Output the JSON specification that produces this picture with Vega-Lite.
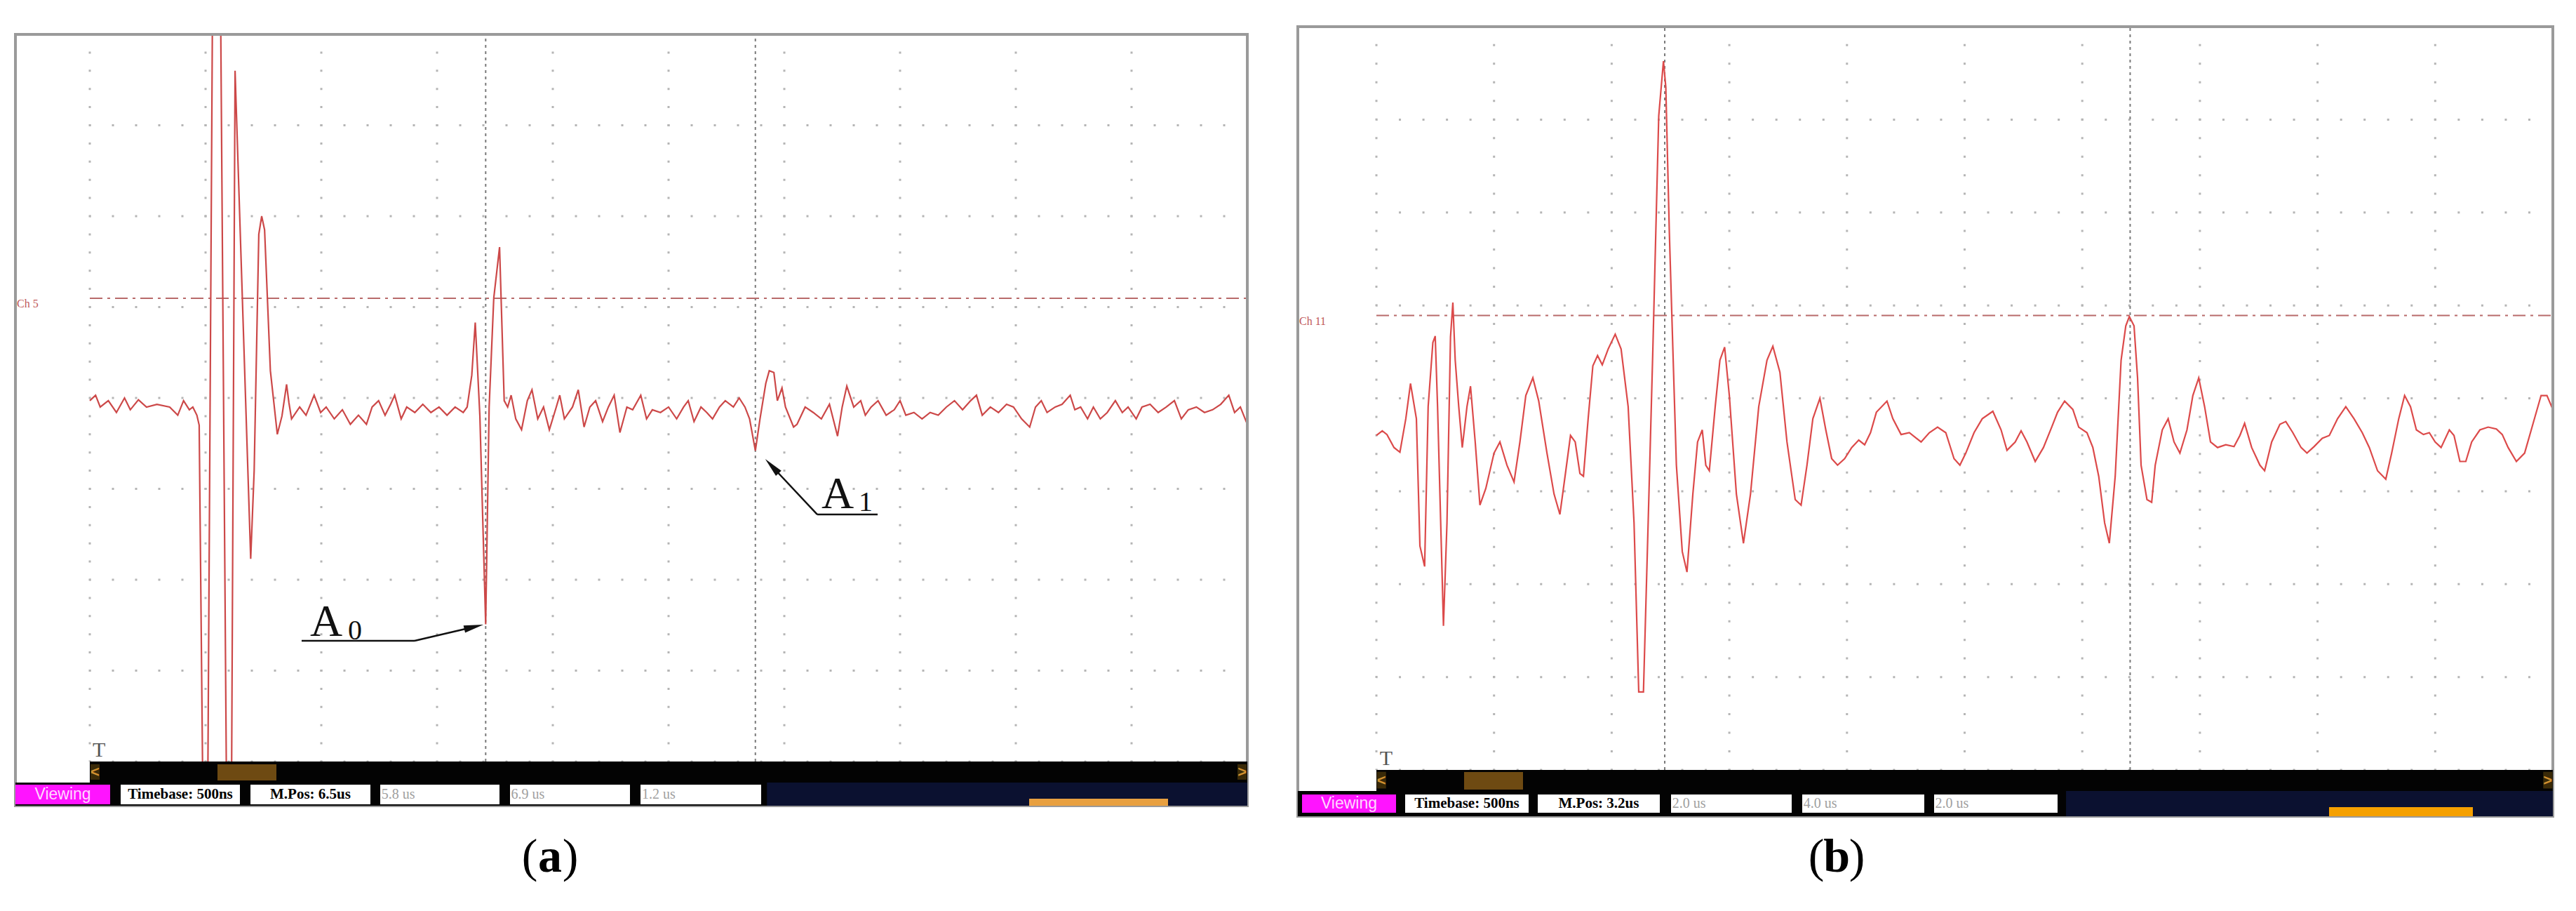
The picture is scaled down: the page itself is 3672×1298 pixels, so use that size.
{
"$schema":"https://vega.github.io/schema/vega-lite/v6.json",
"width":3672,"height":1298,
"autosize":{"type":"fit","contains":"padding"},
"padding":0,
"background":"white",
"config":{"view":{"stroke":null}},
"datasets":{
"waveA":[{"d":0,"v":-0.03},{"d":0.05,"v":0.03},{"d":0.09,"v":-0.1},{"d":0.16,"v":-0.03},{"d":0.23,"v":-0.16},{"d":0.3,"v":0},{"d":0.35,"v":-0.13},{"d":0.42,"v":-0.02},{"d":0.49,"v":-0.1},{"d":0.58,"v":-0.07},{"d":0.69,"v":-0.1},{"d":0.76,"v":-0.19},{"d":0.81,"v":-0.03},{"d":0.86,"v":-0.13},{"d":0.89,"v":-0.1},{"d":0.925,"v":-0.19},{"d":0.945,"v":-0.3},{"d":0.975,"v":-4.15},{"d":1.02,"v":-4.15},{"d":1.06,"v":4.3},{"d":1.13,"v":4.3},{"d":1.18,"v":-4.15},{"d":1.225,"v":-4.15},{"d":1.255,"v":3.6},{"d":1.265,"v":3.2},{"d":1.39,"v":-1.77},{"d":1.42,"v":-0.8},{"d":1.46,"v":1.8},{"d":1.485,"v":2.0},{"d":1.51,"v":1.85},{"d":1.56,"v":0.3},{"d":1.62,"v":-0.4},{"d":1.66,"v":-0.2},{"d":1.7,"v":0.15},{"d":1.72,"v":-0.05},{"d":1.743,"v":-0.23},{"d":1.813,"v":-0.1},{"d":1.868,"v":-0.19},{"d":1.938,"v":0.03},{"d":1.994,"v":-0.16},{"d":2.042,"v":-0.1},{"d":2.112,"v":-0.23},{"d":2.182,"v":-0.13},{"d":2.251,"v":-0.29},{"d":2.321,"v":-0.19},{"d":2.39,"v":-0.29},{"d":2.439,"v":-0.1},{"d":2.495,"v":-0.03},{"d":2.551,"v":-0.19},{"d":2.599,"v":-0.07},{"d":2.634,"v":0.03},{"d":2.69,"v":-0.23},{"d":2.738,"v":-0.1},{"d":2.808,"v":-0.16},{"d":2.877,"v":-0.07},{"d":2.947,"v":-0.16},{"d":3.017,"v":-0.1},{"d":3.086,"v":-0.19},{"d":3.156,"v":-0.1},{"d":3.226,"v":-0.16},{"d":3.26,"v":-0.1},{"d":3.3,"v":0.25},{"d":3.33,"v":0.83},{"d":3.37,"v":-0.2},{"d":3.42,"v":-2.49},{"d":3.45,"v":-0.1},{"d":3.49,"v":1.1},{"d":3.54,"v":1.66},{"d":3.58,"v":-0.03},{"d":3.61,"v":-0.1},{"d":3.64,"v":0.03},{"d":3.68,"v":-0.23},{"d":3.73,"v":-0.35},{"d":3.78,"v":-0.03},{"d":3.82,"v":0.09},{"d":3.87,"v":-0.23},{"d":3.92,"v":-0.1},{"d":3.97,"v":-0.35},{"d":4.03,"v":-0.1},{"d":4.06,"v":0.03},{"d":4.1,"v":-0.23},{"d":4.17,"v":-0.1},{"d":4.22,"v":0.09},{"d":4.27,"v":-0.32},{"d":4.32,"v":-0.1},{"d":4.37,"v":-0.03},{"d":4.43,"v":-0.26},{"d":4.48,"v":-0.1},{"d":4.53,"v":0.03},{"d":4.58,"v":-0.38},{"d":4.64,"v":-0.1},{"d":4.69,"v":-0.13},{"d":4.76,"v":0.03},{"d":4.81,"v":-0.23},{"d":4.86,"v":-0.13},{"d":4.93,"v":-0.16},{"d":5.0,"v":-0.1},{"d":5.07,"v":-0.23},{"d":5.13,"v":-0.1},{"d":5.17,"v":-0.03},{"d":5.22,"v":-0.26},{"d":5.28,"v":-0.1},{"d":5.33,"v":-0.16},{"d":5.38,"v":-0.23},{"d":5.44,"v":-0.1},{"d":5.49,"v":-0.03},{"d":5.56,"v":-0.1},{"d":5.61,"v":0},{"d":5.66,"v":-0.1},{"d":5.7,"v":-0.23},{"d":5.75,"v":-0.58},{"d":5.79,"v":-0.23},{"d":5.84,"v":0.16},{"d":5.87,"v":0.3},{"d":5.91,"v":0.28},{"d":5.94,"v":-0.03},{"d":5.98,"v":0.11},{"d":6.01,"v":-0.1},{"d":6.08,"v":-0.32},{"d":6.11,"v":-0.29},{"d":6.18,"v":-0.1},{"d":6.25,"v":-0.16},{"d":6.32,"v":-0.23},{"d":6.39,"v":-0.07},{"d":6.46,"v":-0.42},{"d":6.5,"v":-0.1},{"d":6.54,"v":0.13},{"d":6.6,"v":-0.1},{"d":6.66,"v":-0.03},{"d":6.7,"v":-0.19},{"d":6.75,"v":-0.1},{"d":6.81,"v":-0.03},{"d":6.88,"v":-0.19},{"d":6.95,"v":-0.13},{"d":7.0,"v":-0.03},{"d":7.05,"v":-0.19},{"d":7.12,"v":-0.16},{"d":7.19,"v":-0.23},{"d":7.26,"v":-0.16},{"d":7.33,"v":-0.19},{"d":7.4,"v":-0.1},{"d":7.47,"v":-0.03},{"d":7.54,"v":-0.13},{"d":7.61,"v":-0.03},{"d":7.66,"v":0.03},{"d":7.71,"v":-0.19},{"d":7.78,"v":-0.1},{"d":7.85,"v":-0.16},{"d":7.92,"v":-0.07},{"d":7.98,"v":-0.1},{"d":8.05,"v":-0.23},{"d":8.12,"v":-0.32},{"d":8.17,"v":-0.1},{"d":8.22,"v":-0.03},{"d":8.27,"v":-0.16},{"d":8.34,"v":-0.1},{"d":8.4,"v":-0.07},{"d":8.47,"v":0.03},{"d":8.51,"v":-0.13},{"d":8.56,"v":-0.1},{"d":8.62,"v":-0.23},{"d":8.67,"v":-0.1},{"d":8.73,"v":-0.23},{"d":8.79,"v":-0.16},{"d":8.86,"v":-0.03},{"d":8.92,"v":-0.16},{"d":8.97,"v":-0.1},{"d":9.04,"v":-0.23},{"d":9.09,"v":-0.1},{"d":9.16,"v":-0.07},{"d":9.23,"v":-0.16},{"d":9.3,"v":-0.1},{"d":9.37,"v":-0.03},{"d":9.43,"v":-0.23},{"d":9.49,"v":-0.13},{"d":9.56,"v":-0.1},{"d":9.63,"v":-0.16},{"d":9.7,"v":-0.13},{"d":9.77,"v":-0.07},{"d":9.84,"v":0.03},{"d":9.89,"v":-0.16},{"d":9.94,"v":-0.1},{"d":10.0,"v":-0.29}],
"waveB":[{"d":0,"v":-0.4},{"d":0.05,"v":-0.35},{"d":0.09,"v":-0.39},{"d":0.15,"v":-0.53},{"d":0.2,"v":-0.58},{"d":0.25,"v":-0.22},{"d":0.29,"v":0.16},{"d":0.34,"v":-0.22},{"d":0.37,"v":-1.59},{"d":0.41,"v":-1.81},{"d":0.44,"v":-0.09},{"d":0.48,"v":0.6},{"d":0.5,"v":0.67},{"d":0.52,"v":-0.09},{"d":0.56,"v":-1.97},{"d":0.57,"v":-2.45},{"d":0.6,"v":-1.34},{"d":0.63,"v":0.66},{"d":0.65,"v":1.03},{"d":0.67,"v":0.41},{"d":0.7,"v":-0.09},{"d":0.73,"v":-0.53},{"d":0.77,"v":-0.09},{"d":0.8,"v":0.13},{"d":0.84,"v":-0.47},{"d":0.88,"v":-1.15},{"d":0.93,"v":-0.97},{"d":1.0,"v":-0.59},{"d":1.05,"v":-0.47},{"d":1.11,"v":-0.72},{"d":1.17,"v":-0.9},{"d":1.22,"v":-0.47},{"d":1.27,"v":0.03},{"d":1.33,"v":0.22},{"d":1.38,"v":-0.03},{"d":1.45,"v":-0.59},{"d":1.51,"v":-1.03},{"d":1.56,"v":-1.25},{"d":1.61,"v":-0.78},{"d":1.65,"v":-0.4},{"d":1.69,"v":-0.47},{"d":1.73,"v":-0.81},{"d":1.76,"v":-0.84},{"d":1.8,"v":-0.22},{"d":1.84,"v":0.35},{"d":1.88,"v":0.46},{"d":1.92,"v":0.36},{"d":1.97,"v":0.53},{"d":2.03,"v":0.69},{"d":2.08,"v":0.53},{"d":2.14,"v":-0.09},{"d":2.19,"v":-1.34},{"d":2.23,"v":-3.16},{"d":2.27,"v":-3.16},{"d":2.31,"v":-1.34},{"d":2.35,"v":0.53},{"d":2.4,"v":3.04},{"d":2.44,"v":3.63},{"d":2.46,"v":3.35},{"d":2.49,"v":1.79},{"d":2.52,"v":0.53},{"d":2.55,"v":-0.72},{"d":2.6,"v":-1.65},{"d":2.64,"v":-1.87},{"d":2.69,"v":-1.03},{"d":2.73,"v":-0.47},{"d":2.77,"v":-0.34},{"d":2.8,"v":-0.72},{"d":2.83,"v":-0.78},{"d":2.88,"v":-0.09},{"d":2.92,"v":0.41},{"d":2.96,"v":0.55},{"d":3.0,"v":0.03},{"d":3.06,"v":-1.03},{"d":3.12,"v":-1.56},{"d":3.18,"v":-1.03},{"d":3.25,"v":-0.09},{"d":3.32,"v":0.41},{"d":3.37,"v":0.56},{"d":3.43,"v":0.28},{"d":3.49,"v":-0.47},{"d":3.56,"v":-1.09},{"d":3.61,"v":-1.15},{"d":3.66,"v":-0.72},{"d":3.71,"v":-0.22},{"d":3.77,"v":0},{"d":3.82,"v":-0.34},{"d":3.87,"v":-0.65},{"d":3.92,"v":-0.72},{"d":3.98,"v":-0.65},{"d":4.04,"v":-0.53},{"d":4.1,"v":-0.45},{"d":4.15,"v":-0.5},{"d":4.2,"v":-0.37},{"d":4.25,"v":-0.15},{"d":4.34,"v":-0.03},{"d":4.39,"v":-0.22},{"d":4.46,"v":-0.39},{"d":4.53,"v":-0.37},{"d":4.58,"v":-0.42},{"d":4.63,"v":-0.47},{"d":4.7,"v":-0.37},{"d":4.77,"v":-0.31},{"d":4.84,"v":-0.37},{"d":4.91,"v":-0.65},{"d":4.96,"v":-0.72},{"d":5.01,"v":-0.59},{"d":5.08,"v":-0.37},{"d":5.15,"v":-0.22},{"d":5.24,"v":-0.14},{"d":5.31,"v":-0.34},{"d":5.36,"v":-0.56},{"d":5.43,"v":-0.47},{"d":5.48,"v":-0.35},{"d":5.53,"v":-0.47},{"d":5.6,"v":-0.68},{"d":5.67,"v":-0.53},{"d":5.74,"v":-0.31},{"d":5.79,"v":-0.15},{"d":5.85,"v":-0.03},{"d":5.92,"v":-0.12},{"d":5.97,"v":-0.31},{"d":6.04,"v":-0.37},{"d":6.09,"v":-0.53},{"d":6.14,"v":-0.84},{"d":6.19,"v":-1.34},{"d":6.23,"v":-1.56},{"d":6.28,"v":-0.84},{"d":6.33,"v":0.41},{"d":6.37,"v":0.78},{"d":6.4,"v":0.88},{"d":6.44,"v":0.78},{"d":6.47,"v":0.22},{"d":6.5,"v":-0.72},{"d":6.55,"v":-1.09},{"d":6.59,"v":-1.12},{"d":6.62,"v":-0.72},{"d":6.68,"v":-0.34},{"d":6.73,"v":-0.22},{"d":6.78,"v":-0.47},{"d":6.83,"v":-0.59},{"d":6.89,"v":-0.34},{"d":6.94,"v":0.03},{"d":6.99,"v":0.22},{"d":7.04,"v":-0.09},{"d":7.09,"v":-0.47},{"d":7.15,"v":-0.53},{"d":7.22,"v":-0.5},{"d":7.29,"v":-0.52},{"d":7.34,"v":-0.4},{"d":7.38,"v":-0.27},{"d":7.44,"v":-0.53},{"d":7.51,"v":-0.72},{"d":7.55,"v":-0.78},{"d":7.61,"v":-0.47},{"d":7.68,"v":-0.28},{"d":7.73,"v":-0.25},{"d":7.79,"v":-0.37},{"d":7.86,"v":-0.53},{"d":7.91,"v":-0.59},{"d":7.97,"v":-0.52},{"d":8.04,"v":-0.43},{"d":8.1,"v":-0.4},{"d":8.17,"v":-0.22},{"d":8.24,"v":-0.09},{"d":8.31,"v":-0.22},{"d":8.38,"v":-0.37},{"d":8.44,"v":-0.53},{"d":8.51,"v":-0.78},{"d":8.58,"v":-0.87},{"d":8.63,"v":-0.59},{"d":8.69,"v":-0.22},{"d":8.74,"v":0.03},{"d":8.79,"v":-0.09},{"d":8.84,"v":-0.34},{"d":8.9,"v":-0.39},{"d":8.95,"v":-0.37},{"d":9.0,"v":-0.47},{"d":9.05,"v":-0.53},{"d":9.12,"v":-0.34},{"d":9.16,"v":-0.4},{"d":9.21,"v":-0.68},{"d":9.26,"v":-0.68},{"d":9.31,"v":-0.47},{"d":9.38,"v":-0.34},{"d":9.45,"v":-0.31},{"d":9.52,"v":-0.33},{"d":9.57,"v":-0.39},{"d":9.62,"v":-0.53},{"d":9.69,"v":-0.68},{"d":9.76,"v":-0.59},{"d":9.83,"v":-0.28},{"d":9.9,"v":0.03},{"d":9.95,"v":0.03},{"d":10.0,"v":-0.12}]
},
"resolve":{"scale":{"x":"independent","y":"independent"}},
"layer":[
{
"encoding":{
"x":{"field":"d","type":"quantitative","axis":null,"scale":{"domain":[-0.7758,21.4788],"nice":false,"zero":false}},
"y":{"field":"v","type":"quantitative","axis":null,"scale":{"domain":[-5.6448,4.3784],"nice":false,"zero":false}}
},
"layer":[
{"data":{"values":[{"d":0,"v":-4,"v2":4},{"d":1,"v":-4,"v2":4},{"d":2,"v":-4,"v2":4},{"d":3,"v":-4,"v2":4},{"d":4,"v":-4,"v2":4},{"d":5,"v":-4,"v2":4},{"d":6,"v":-4,"v2":4},{"d":7,"v":-4,"v2":4},{"d":8,"v":-4,"v2":4},{"d":9,"v":-4,"v2":4},{"d":10,"v":-4,"v2":4}]},
 "mark":{"type":"rule","color":"#b5b5b5","strokeWidth":3,"strokeDash":[3,22.9],"strokeDashOffset":1.5},
 "encoding":{"y2":{"field":"v2"}}},
{"data":{"values":[{"d":0,"d2":10,"v":-4},{"d":0,"d2":10,"v":-3},{"d":0,"d2":10,"v":-2},{"d":0,"d2":10,"v":-1},{"d":0,"d2":10,"v":0},{"d":0,"d2":10,"v":1},{"d":0,"d2":10,"v":2},{"d":0,"d2":10,"v":3},{"d":0,"d2":10,"v":4}]},
 "mark":{"type":"rule","color":"#b5b5b5","strokeWidth":3,"strokeDash":[3,30],"strokeDashOffset":1.5},
 "encoding":{"x2":{"field":"d2"}}},
{"data":{"values":[{"d":3.42,"v":-4,"v2":4},{"d":5.75,"v":-4,"v2":4}]},
 "mark":{"type":"rule","color":"#7a7a7a","strokeWidth":2,"strokeDash":[4,5]},
 "encoding":{"y2":{"field":"v2"}}},
{"data":{"values":[{"d":0,"d2":10,"v":1.0965}]},
 "mark":{"type":"rule","color":"#b86a6a","strokeWidth":2,"strokeDash":[18,7,4,7]},
 "encoding":{"x2":{"field":"d2"}}},
{"data":{"name":"waveA"},
 "mark":{"type":"line","color":"#cc4848","strokeWidth":2.2},
 "encoding":{}},
{"data":{"values":[{"d":-0.7,"d2":10.2,"v":4,"v2":4.3784}]},
 "mark":{"type":"rect","color":"white"},
 "encoding":{"x2":{"field":"d2"},"y2":{"field":"v2"}}},
{"data":{"values":[{"d":-0.6424,"d2":10,"v":4,"v2":-4.4865}]},
 "mark":{"type":"rect","filled":false,"color":"#9a9a9a","strokeWidth":4},
 "encoding":{"x2":{"field":"d2"},"y2":{"field":"v2"}}},
{"data":{"values":[{"d":-0.6424,"d2":10,"v":-4.2317,"v2":-4.4865}]},
 "mark":{"type":"rect","color":"#0b1130"},
 "encoding":{"x2":{"field":"d2"},"y2":{"field":"v2"}}},
{"data":{"values":[{"d":0,"d2":10,"v":-4,"v2":-4.2317},{"d":-0.6424,"d2":5.85,"v":-4.2317,"v2":-4.4865}]},
 "mark":{"type":"rect","color":"#030303"},
 "encoding":{"x2":{"field":"d2"},"y2":{"field":"v2"}}},
{"data":{"values":[{"d":-0.6424,"d2":0.1758,"v":-4.2548,"v2":-4.471}]},
 "mark":{"type":"rect","color":"#ff14ff"},
 "encoding":{"x2":{"field":"d2"},"y2":{"field":"v2"}}},
{"data":{"values":[{"d":0.2667,"d2":1.297,"v":-4.2548,"v2":-4.471},{"d":1.3879,"d2":2.4242,"v":-4.2548,"v2":-4.471},{"d":2.5091,"d2":3.5394,"v":-4.2548,"v2":-4.471},{"d":3.6303,"d2":4.6667,"v":-4.2548,"v2":-4.471},{"d":4.7576,"d2":5.8,"v":-4.2548,"v2":-4.471}]},
 "mark":{"type":"rect","color":"#ffffff"},
 "encoding":{"x2":{"field":"d2"},"y2":{"field":"v2"}}},
{"data":{"values":[{"d":8.1152,"d2":9.3152,"v":-4.4093,"v2":-4.4865}]},
 "mark":{"type":"rect","color":"#e8a040"},
 "encoding":{"x2":{"field":"d2"},"y2":{"field":"v2"}}},
{"data":{"values":[{"d":1.103,"d2":1.6121,"v":-4.0309,"v2":-4.2085}]},
 "mark":{"type":"rect","color":"#6e4a12"},
 "encoding":{"x2":{"field":"d2"},"y2":{"field":"v2"}}},
{"data":{"values":[{"d":0.006,"d2":0.085,"v":-4.03,"v2":-4.2},{"d":9.915,"d2":9.994,"v":-4.03,"v2":-4.2}]},
 "mark":{"type":"rect","color":"#3a2a08"},
 "encoding":{"x2":{"field":"d2"},"y2":{"field":"v2"}}},
{"data":{"values":[{"d":0.045,"v":-4.116,"label":"<"},{"d":9.955,"v":-4.116,"label":">"}]},
 "mark":{"type":"text","align":"center","baseline":"middle","fontSize":22,"fontWeight":"bold","font":"Liberation Sans","color":"#d09030"},
 "encoding":{"text":{"field":"label"}}},
{"data":{"values":[{"d":-0.2333,"v":-4.363,"label":"Viewing"}]},
 "mark":{"type":"text","align":"center","baseline":"middle","fontSize":23,"font":"Liberation Sans","color":"#ffd8ff"},
 "encoding":{"text":{"field":"label"}}},
{"data":{"values":[{"d":0.7818,"v":-4.363,"label":"Timebase: 500ns"},{"d":1.906,"v":-4.363,"label":"M.Pos: 6.5us"}]},
 "mark":{"type":"text","align":"center","baseline":"middle","fontSize":21,"fontWeight":"bold","font":"Liberation Serif","color":"#000000"},
 "encoding":{"text":{"field":"label"}}},
{"data":{"values":[{"d":2.52,"v":-4.363,"label":"5.8 us"},{"d":3.64,"v":-4.363,"label":"6.9 us"},{"d":4.77,"v":-4.363,"label":"1.2 us"}]},
 "mark":{"type":"text","align":"left","baseline":"middle","fontSize":20,"font":"Liberation Serif","color":"#a0a0a0"},
 "encoding":{"text":{"field":"label"}}},
{"data":{"values":[{"d":-0.63,"v":1.035,"label":"Ch 5"}]},
 "mark":{"type":"text","align":"left","baseline":"middle","fontSize":16,"font":"Liberation Serif","color":"#c05858"},
 "encoding":{"text":{"field":"label"}}},
{"data":{"values":[{"d":0.079,"v":-3.876,"label":"T"}]},
 "mark":{"type":"text","align":"center","baseline":"middle","fontSize":30,"font":"Liberation Serif","color":"#555555"},
 "encoding":{"text":{"field":"label"}}},
{"data":{"values":[{"d":1.903,"v":-2.618,"label":"A"},{"d":6.321,"v":-1.212,"label":"A"}]},
 "mark":{"type":"text","align":"left","baseline":"alphabetic","fontSize":64,"font":"Liberation Serif","color":"#111111"},
 "encoding":{"text":{"field":"label"}}},
{"data":{"values":[{"d":2.23,"v":-2.656,"label":"0"},{"d":6.642,"v":-1.243,"label":"1"}]},
 "mark":{"type":"text","align":"left","baseline":"alphabetic","fontSize":40,"font":"Liberation Serif","color":"#111111"},
 "encoding":{"text":{"field":"label"}}},
{"data":{"values":[{"d":1.83,"v":-2.672,"d2":2.806,"v2":-2.672},{"d":2.806,"v":-2.672,"d2":3.318,"v2":-2.519},{"d":6.285,"v":-1.282,"d2":6.806,"v2":-1.282},{"d":6.285,"v":-1.282,"d2":5.893,"v2":-0.751}]},
 "mark":{"type":"rule","color":"#111111","strokeWidth":2.5},
 "encoding":{"x2":{"field":"d2"},"y2":{"field":"v2"}}},
{"data":{"values":[{"d":3.318,"v":-2.519}]},
 "mark":{"type":"point","shape":"M0,-1L0.38,1L-0.38,1Z","filled":true,"color":"#111111","opacity":1,"size":784,"angle":77}},
{"data":{"values":[{"d":5.893,"v":-0.751}]},
 "mark":{"type":"point","shape":"M0,-1L0.38,1L-0.38,1Z","filled":true,"color":"#111111","opacity":1,"size":784,"angle":317}},
{"data":{"values":[{"d":3.8,"v":-5.058,"label":"("},{"d":4.152,"v":-5.058,"label":")"}]},
 "mark":{"type":"text","align":"center","baseline":"middle","fontSize":68,"font":"Liberation Serif","color":"#000000"},
 "encoding":{"text":{"field":"label"}}},
{"data":{"values":[{"d":3.976,"v":-5.058,"label":"a"}]},
 "mark":{"type":"text","align":"center","baseline":"middle","fontSize":68,"fontWeight":"bold","font":"Liberation Serif","color":"#000000"},
 "encoding":{"text":{"field":"label"}}}
]
},
{
"encoding":{
"x":{"field":"d","type":"quantitative","axis":null,"scale":{"domain":[-11.6995,10.1968],"nice":false,"zero":false}},
"y":{"field":"v","type":"quantitative","axis":null,"scale":{"domain":[-5.5184,4.2871],"nice":false,"zero":false}}
},
"layer":[
{"data":{"values":[{"d":0,"v":-4,"v2":4},{"d":1,"v":-4,"v2":4},{"d":2,"v":-4,"v2":4},{"d":3,"v":-4,"v2":4},{"d":4,"v":-4,"v2":4},{"d":5,"v":-4,"v2":4},{"d":6,"v":-4,"v2":4},{"d":7,"v":-4,"v2":4},{"d":8,"v":-4,"v2":4},{"d":9,"v":-4,"v2":4},{"d":10,"v":-4,"v2":4}]},
 "mark":{"type":"rule","color":"#b5b5b5","strokeWidth":3,"strokeDash":[3,23.48],"strokeDashOffset":1.5},
 "encoding":{"y2":{"field":"v2"}}},
{"data":{"values":[{"d":0,"d2":10,"v":-4},{"d":0,"d2":10,"v":-3},{"d":0,"d2":10,"v":-2},{"d":0,"d2":10,"v":-1},{"d":0,"d2":10,"v":0},{"d":0,"d2":10,"v":1},{"d":0,"d2":10,"v":2},{"d":0,"d2":10,"v":3},{"d":0,"d2":10,"v":4}]},
 "mark":{"type":"rule","color":"#b5b5b5","strokeWidth":3,"strokeDash":[3,30.54],"strokeDashOffset":1.5},
 "encoding":{"x2":{"field":"d2"}}},
{"data":{"values":[{"d":2.451,"v":-4,"v2":4},{"d":6.407,"v":-4,"v2":4}]},
 "mark":{"type":"rule","color":"#7a7a7a","strokeWidth":2,"strokeDash":[4,5]},
 "encoding":{"y2":{"field":"v2"}}},
{"data":{"values":[{"d":0,"d2":10,"v":0.8914}]},
 "mark":{"type":"rule","color":"#b86a6a","strokeWidth":2,"strokeDash":[18,7,4,7]},
 "encoding":{"x2":{"field":"d2"}}},
{"data":{"name":"waveB"},
 "mark":{"type":"line","color":"#dc4a4a","strokeWidth":2.2},
 "encoding":{}},
{"data":{"values":[{"d":-0.6679,"d2":10,"v":4,"v2":-4.4986}]},
 "mark":{"type":"rect","filled":false,"color":"#9a9a9a","strokeWidth":4},
 "encoding":{"x2":{"field":"d2"},"y2":{"field":"v2"}}},
{"data":{"values":[{"d":-0.6679,"d2":10,"v":-4.2266,"v2":-4.4986}]},
 "mark":{"type":"rect","color":"#0b1130"},
 "encoding":{"x2":{"field":"d2"},"y2":{"field":"v2"}}},
{"data":{"values":[{"d":0,"d2":10,"v":-4,"v2":-4.2266},{"d":-0.6679,"d2":5.862,"v":-4.2266,"v2":-4.4986}]},
 "mark":{"type":"rect","color":"#030303"},
 "encoding":{"x2":{"field":"d2"},"y2":{"field":"v2"}}},
{"data":{"values":[{"d":-0.6321,"d2":0.167,"v":-4.2644,"v2":-4.4608}]},
 "mark":{"type":"rect","color":"#ff14ff"},
 "encoding":{"x2":{"field":"d2"},"y2":{"field":"v2"}}},
{"data":{"values":[{"d":0.2445,"d2":1.294,"v":-4.2644,"v2":-4.4608},{"d":1.3715,"d2":2.4091,"v":-4.2644,"v2":-4.4608},{"d":2.5045,"d2":3.5301,"v":-4.2644,"v2":-4.4608},{"d":3.6196,"d2":4.6571,"v":-4.2644,"v2":-4.4608},{"d":4.7406,"d2":5.7901,"v":-4.2644,"v2":-4.4608}]},
 "mark":{"type":"rect","color":"#ffffff"},
 "encoding":{"x2":{"field":"d2"},"y2":{"field":"v2"}}},
{"data":{"values":[{"d":8.0978,"d2":9.3202,"v":-4.4004,"v2":-4.4986}]},
 "mark":{"type":"rect","color":"#f5a000"},
 "encoding":{"x2":{"field":"d2"},"y2":{"field":"v2"}}},
{"data":{"values":[{"d":0.7454,"d2":1.2463,"v":-4.0227,"v2":-4.2115}]},
 "mark":{"type":"rect","color":"#6e4a12"},
 "encoding":{"x2":{"field":"d2"},"y2":{"field":"v2"}}},
{"data":{"values":[{"d":0.004,"d2":0.082,"v":-4.02,"v2":-4.2},{"d":9.918,"d2":9.996,"v":-4.02,"v2":-4.2}]},
 "mark":{"type":"rect","color":"#3a2a08"},
 "encoding":{"x2":{"field":"d2"},"y2":{"field":"v2"}}},
{"data":{"values":[{"d":0.043,"v":-4.113,"label":"<"},{"d":9.957,"v":-4.113,"label":">"}]},
 "mark":{"type":"text","align":"center","baseline":"middle","fontSize":22,"fontWeight":"bold","font":"Liberation Sans","color":"#d09030"},
 "encoding":{"text":{"field":"label"}}},
{"data":{"values":[{"d":-0.2326,"v":-4.3626,"label":"Viewing"}]},
 "mark":{"type":"text","align":"center","baseline":"middle","fontSize":23,"font":"Liberation Sans","color":"#ffd8ff"},
 "encoding":{"text":{"field":"label"}}},
{"data":{"values":[{"d":0.7693,"v":-4.3626,"label":"Timebase: 500ns"},{"d":1.8903,"v":-4.3626,"label":"M.Pos: 3.2us"}]},
 "mark":{"type":"text","align":"center","baseline":"middle","fontSize":21,"fontWeight":"bold","font":"Liberation Serif","color":"#000000"},
 "encoding":{"text":{"field":"label"}}},
{"data":{"values":[{"d":2.515,"v":-4.3626,"label":"2.0 us"},{"d":3.63,"v":-4.3626,"label":"4.0 us"},{"d":4.75,"v":-4.3626,"label":"2.0 us"}]},
 "mark":{"type":"text","align":"left","baseline":"middle","fontSize":20,"font":"Liberation Serif","color":"#a0a0a0"},
 "encoding":{"text":{"field":"label"}}},
{"data":{"values":[{"d":-0.656,"v":0.827,"label":"Ch 11"}]},
 "mark":{"type":"text","align":"left","baseline":"middle","fontSize":16,"font":"Liberation Serif","color":"#c05858"},
 "encoding":{"text":{"field":"label"}}},
{"data":{"values":[{"d":0.083,"v":-3.879,"label":"T"}]},
 "mark":{"type":"text","align":"center","baseline":"middle","fontSize":30,"font":"Liberation Serif","color":"#555555"},
 "encoding":{"text":{"field":"label"}}},
{"data":{"values":[{"d":3.739,"v":-4.944,"label":"("},{"d":4.085,"v":-4.944,"label":")"}]},
 "mark":{"type":"text","align":"center","baseline":"middle","fontSize":68,"font":"Liberation Serif","color":"#000000"},
 "encoding":{"text":{"field":"label"}}},
{"data":{"values":[{"d":3.912,"v":-4.944,"label":"b"}]},
 "mark":{"type":"text","align":"center","baseline":"middle","fontSize":68,"fontWeight":"bold","font":"Liberation Serif","color":"#000000"},
 "encoding":{"text":{"field":"label"}}}
]
}
]
}
